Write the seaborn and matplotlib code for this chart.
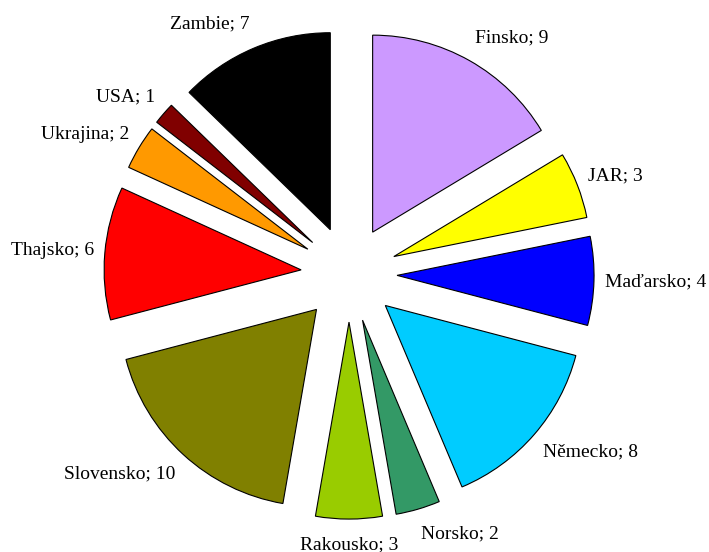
import math
import matplotlib
matplotlib.use("Agg")
import matplotlib.pyplot as plt
import seaborn as sns

categories = ["Finsko", "JAR", "Maďarsko", "Německo", "Norsko", "Rakousko",
              "Slovensko", "Thajsko", "Ukrajina", "USA", "Zambie"]
values = [9, 3, 4, 8, 2, 3, 10, 6, 2, 1, 7]
colors = ["#CC99FF", "#FFFF00", "#0000FF", "#00CCFF", "#339966", "#99CC00",
          "#808000", "#FF0000", "#FF9900", "#800000", "#000000"]
labels = [f"{c}; {v}" for c, v in zip(categories, values)]

sns.set_theme(style="white")
plt.rcParams["font.family"] = ["Liberation Serif", "DejaVu Serif"]

fig = plt.figure(figsize=(7.09, 5.52), dpi=100)
ax = fig.add_axes([0, 0, 1, 1])

wedges, texts = ax.pie(values, labels=labels, colors=colors,
                       explode=[0.244] * len(values),
                       startangle=90, counterclock=False,
                       labeldistance=1.09,
                       wedgeprops=dict(edgecolor="black", linewidth=0.8),
                       textprops=dict(fontsize=14, color="black"))

# place labels just outside each exploded wedge (Excel-like outside-end placement):
# horizontal gap to the text edge, plus extra vertical room for the text height
for w, t in zip(wedges, texts):
    th = math.radians((w.theta1 + w.theta2) / 2)
    c, s = math.cos(th), math.sin(th)
    cx, cy = w.center
    t.set_position((cx + 1.056 * w.r * c, cy + 1.132 * w.r * s))
    t.set_verticalalignment("center")
    if c > 0.05:
        t.set_horizontalalignment("left")
    elif c < -0.05:
        t.set_horizontalalignment("right")
    else:
        t.set_horizontalalignment("center")
    t.set_fontsize(14)
    t.set_color("black")

ax.set_xlim(-349 / 197, (709 - 349) / 197)
ax.set_ylim(-278 / 197, (552 - 278) / 197)
ax.set_aspect("auto")
ax.axis("off")

fig.savefig("out.png", dpi=100, facecolor="white")
